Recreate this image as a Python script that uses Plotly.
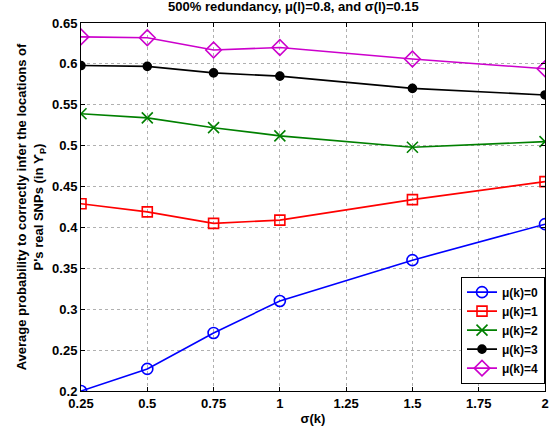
import plotly.graph_objects as go

sigma_k = [0.25, 0.5, 0.75, 1, 1.5, 2]
mu0 = [0.200, 0.227, 0.271, 0.310, 0.360, 0.404]
mu1 = [0.429, 0.419, 0.405, 0.409, 0.434, 0.456]
mu2 = [0.539, 0.534, 0.522, 0.512, 0.498, 0.505]
mu3 = [0.598, 0.597, 0.589, 0.585, 0.570, 0.562]
mu4 = [0.633, 0.632, 0.617, 0.620, 0.606, 0.594]
names = ["μ(k)=0", "μ(k)=1", "μ(k)=2", "μ(k)=3", "μ(k)=4"]
x_ticks = [0.25, 0.5, 0.75, 1, 1.25, 1.5, 1.75, 2]
y_ticks = [0.2, 0.25, 0.3, 0.35, 0.4, 0.45, 0.5, 0.55, 0.6, 0.65]

series = [mu0, mu1, mu2, mu3, mu4]
colors = ["#0000ff", "#ff0000", "#008000", "#000000", "#cc00cc"]
symbols = ["circle-open", "square-open", "x-thin-open", "circle", "diamond-open"]
sizes = [11, 10, 11, 8, 12]

fig = go.Figure()
for vals, name, c, s, sz in zip(series, names, colors, symbols, sizes):
    fig.add_trace(go.Scatter(
        x=sigma_k, y=vals, name=f"<b>{name}</b>", mode="lines+markers",
        line=dict(color=c, width=1.6),
        marker=dict(symbol=s, size=sz, color=c, line=dict(color=c, width=1.6)),
    ))

axis_font = dict(family="Liberation Sans, Arial, sans-serif", size=13, color="black")
fig.update_layout(
    width=559, height=434,
    margin=dict(l=81, r=14, t=23, b=43),
    paper_bgcolor="white", plot_bgcolor="white",
    font=dict(family="Liberation Sans, Arial, sans-serif", color="black"),
    title=dict(text="<b>500% redundancy, μ(l)=0.8, and σ(l)=0.15</b>",
               x=0.525, xanchor="center", y=0.995, yanchor="top",
               font=dict(size=13, color="black")),
    xaxis=dict(
        range=[0.25, 2], tickvals=x_ticks, ticktext=[f"<b>{v:g}</b>" for v in x_ticks],
        tickfont=axis_font, ticks="inside", ticklen=4, tickcolor="black",
        showline=True, linecolor="black", linewidth=1, mirror="allticks",
        showgrid=True, gridcolor="#b0b0b0", griddash="dot", gridwidth=1,
        zeroline=False, automargin=False,
        title=dict(text="<b>σ(k)</b>", font=dict(size=13, color="black"), standoff=4),
    ),
    yaxis=dict(
        range=[0.2, 0.65], tickvals=y_ticks, ticktext=[f"<b>{v:g}</b>" for v in y_ticks],
        tickfont=axis_font, ticks="inside", ticklen=4, tickcolor="black",
        showline=True, linecolor="black", linewidth=1, mirror="allticks",
        showgrid=True, gridcolor="#b0b0b0", griddash="dot", gridwidth=1,
        zeroline=False, automargin=False,
        title=dict(text="<b>Average probability to correctly infer the locations of<br>P's real SNPs (in ϒ<sub>P</sub>)</b>",
                   font=dict(size=13, color="black"), standoff=5),
    ),
    legend=dict(
        x=1, xanchor="right", y=0.02, yanchor="bottom",
        bgcolor="white", bordercolor="black", borderwidth=1,
        font=dict(size=12, color="black"),
        itemwidth=30, tracegroupgap=0,
    ),
    showlegend=True,
)

fig.write_html("out.html", config={"displayModeBar": False},
               post_script="document.body.style.margin='0';document.body.style.padding='0';")
